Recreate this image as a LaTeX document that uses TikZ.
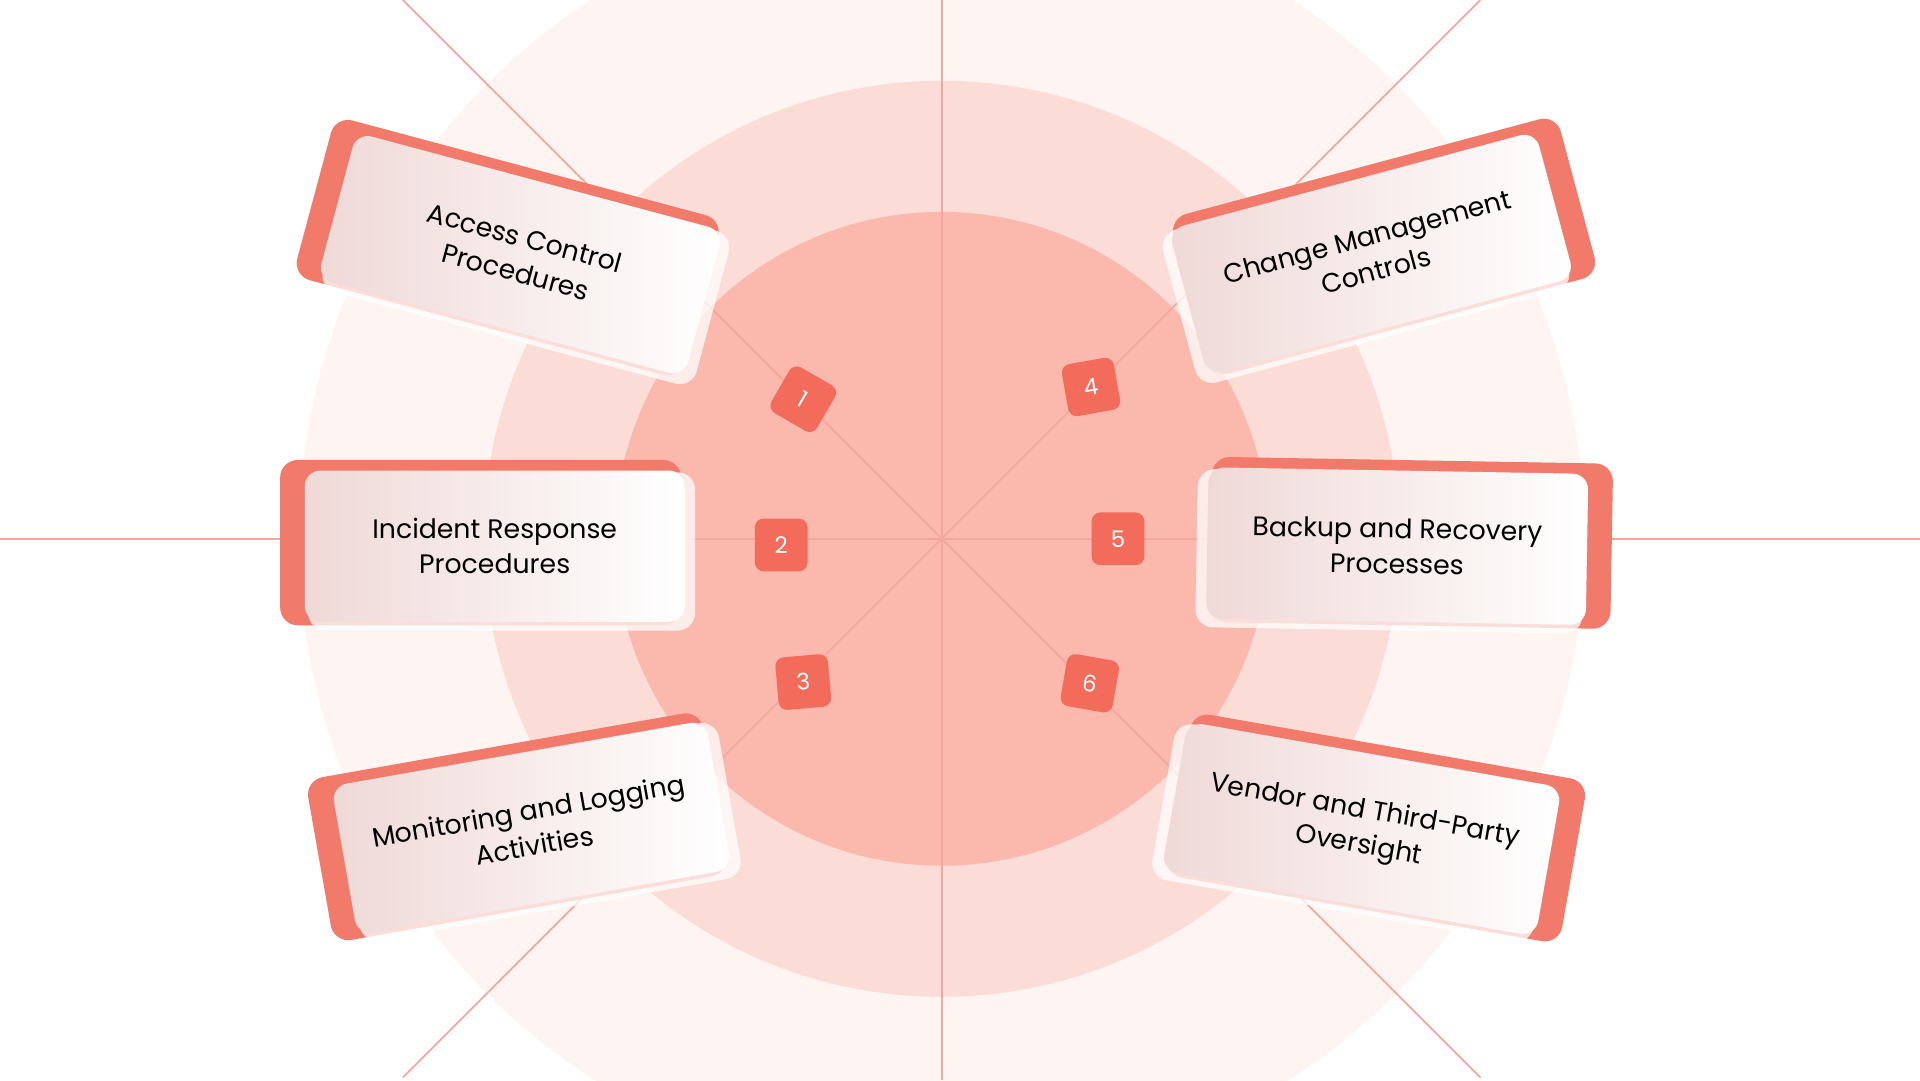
\documentclass[tikz,border=0pt]{standalone}
\usepackage{fontspec}
\setmainfont{Poppins}
\usetikzlibrary{calc}
\definecolor{c0}{HTML}{FEF4F2}
\definecolor{c1}{HTML}{FCDCD6}
\definecolor{c2}{HTML}{FBB9AE}
\definecolor{ln}{HTML}{F2A89E}
\definecolor{sal}{HTML}{F27A6A}
\definecolor{badge}{HTML}{F26B5B}
\definecolor{cardp}{HTML}{EFD9D7}
\tikzset{
 back/.style={fill=sal,rounded corners=5pt,minimum width=114pt,minimum height=47pt},
 glow/.style={fill=white,opacity=0.75,rounded corners=5pt,minimum width=110pt,minimum height=45pt},
 cardbox/.style={left color=cardp,right color=white,rounded corners=4.5pt,minimum width=108pt,minimum height=43pt,align=center,font=\fontsize{7.6}{10}\selectfont,text=black},
 badgebox/.style={fill=badge,rounded corners=2.5pt,minimum size=15pt,inner sep=0pt,text=white,font=\fontsize{6.5}{6.5}\selectfont}
}
\newcommand{\card}[6]{%
 \node[back,rotate=#3,xshift=#4pt,yshift=1pt] (b#6) at (#1,#2) {};
 \node[glow,rotate=#3,xshift=-#4pt*0.5,yshift=-1.5pt] (g#6) at (#1,#2) {};
 \node[cardbox,rotate=#3] (card#6) at (#1,#2) {#5};}
\begin{document}
\begin{tikzpicture}[x=0.012245cm,y=-0.012245cm]
\fill[white] (0,0) rectangle (1568,882);
\clip (0,0) rectangle (1568,882);
\coordinate (o) at (769,440);
\fill[c0] (o) circle[radius=525];
\fill[c1] (o) circle[radius=374];
\fill[c2] (o) circle[radius=267];
\draw[ln,line width=0.5pt] (769,0) -- (769,882) (0,440) -- (1568,440);
\draw[ln,line width=0.5pt] (329,0) -- (1209,880) (1209,0) -- (329,880);
\card{425}{208}{-15}{-4}{Access Control\\Procedures}{1}
\card{404}{446}{0}{-4}{Incident Response\\Procedures}{2}
\card{434}{676}{10}{-4}{Monitoring and Logging\\Activities}{3}
\card{1120}{207}{15}{4}{Change Management\\Controls}{4}
\card{1141}{446}{-1}{4}{Backup and Recovery\\Processes}{5}
\card{1112}{677}{-10}{4}{Vendor and Third-Party\\Oversight}{6}
\node[badgebox,rotate=-30] (n1) at (656,326) {1};
\node[badgebox] (n2) at (638,445) {2};
\node[badgebox,rotate=5] (n3) at (656,557) {3};
\node[badgebox,rotate=10] (n4) at (891,316) {4};
\node[badgebox] (n5) at (913,440) {5};
\node[badgebox,rotate=-10] (n6) at (890,558) {6};
\end{tikzpicture}
\end{document}
